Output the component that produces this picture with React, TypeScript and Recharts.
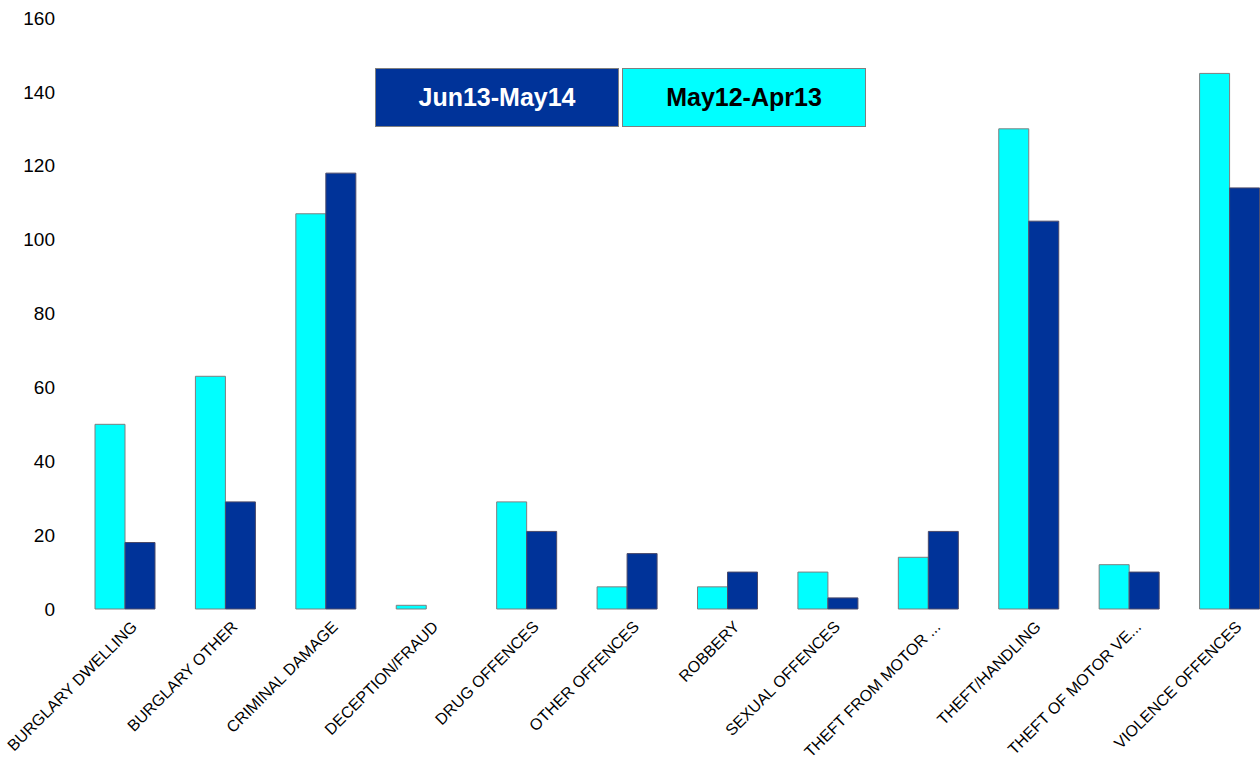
import { BarChart, Bar, XAxis, YAxis } from "recharts";

const categories = [
  "BURGLARY DWELLING",
  "BURGLARY OTHER",
  "CRIMINAL DAMAGE",
  "DECEPTION/FRAUD",
  "DRUG OFFENCES",
  "OTHER OFFENCES",
  "ROBBERY",
  "SEXUAL OFFENCES",
  "THEFT FROM MOTOR ...",
  "THEFT/HANDLING",
  "THEFT OF MOTOR VE...",
  "VIOLENCE OFFENCES",
];
const may12Apr13 = [50, 63, 107, 1, 29, 6, 6, 10, 14, 130, 12, 145];
const jun13May14 = [18, 29, 118, 0, 21, 15, 10, 3, 21, 105, 10, 114];
const yTicks = [0, 20, 40, 60, 80, 100, 120, 140, 160];

const DARK = "#003399";
const CYAN = "#00FFFF";
const FONT = "'Liberation Sans', Arial, sans-serif";

const data = categories.map((c, i) => ({
  category: c,
  prev: may12Apr13[i],
  curr: jun13May14[i],
}));

function XTick({ x, y, payload }: any) {
  return (
    <g transform={`translate(${x + 10},${y + 8})`}>
      <text
        textAnchor="end"
        transform="rotate(-45)"
        fontSize={16}
        fontFamily={FONT}
        fill="#000"
        dy={4}
      >
        {payload.value}
      </text>
    </g>
  );
}

function LegendBoxes() {
  const box = {
    width: 244,
    height: 59,
    boxSizing: "border-box" as const,
    border: "1px solid #7f7f7f",
    display: "flex",
    alignItems: "center",
    justifyContent: "center",
    fontFamily: FONT,
    fontWeight: 700,
    fontSize: 25,
  };
  return (
    <div style={{ position: "absolute", left: 375, top: 68, display: "flex", gap: 3 }}>
      <div style={{ ...box, background: DARK, color: "#fff" }}>Jun13-May14</div>
      <div style={{ ...box, background: CYAN, color: "#000" }}>May12-Apr13</div>
    </div>
  );
}

export default function App() {
  return (
    <div
      style={{
        position: "fixed",
        left: 0,
        top: 0,
        width: 1260,
        height: 759,
        overflow: "hidden",
        background: "#fff",
      }}
    >
      <BarChart
        width={1290}
        height={759}
        data={data}
        margin={{ top: 18, right: 10, left: 0, bottom: 0 }}
        barSize={30}
        barGap={0}
      >
        <XAxis
          dataKey="category"
          interval={0}
          axisLine={false}
          tickLine={false}
          height={150}
          tick={<XTick />}
        />
        <YAxis
          width={75}
          domain={[0, 160]}
          ticks={yTicks}
          axisLine={false}
          tickLine={false}
          tickSize={0}
          tickMargin={20}
          tick={{ fontSize: 19, fill: "#000", fontFamily: FONT }}
        />
        <Bar
          dataKey="prev"
          fill={CYAN}
          stroke="#7f7f7f"
          strokeWidth={1}
          isAnimationActive={false}
        />
        <Bar
          dataKey="curr"
          fill={DARK}
          stroke="#4a4a6a"
          strokeWidth={1}
          isAnimationActive={false}
        />
      </BarChart>
      <LegendBoxes />
    </div>
  );
}
